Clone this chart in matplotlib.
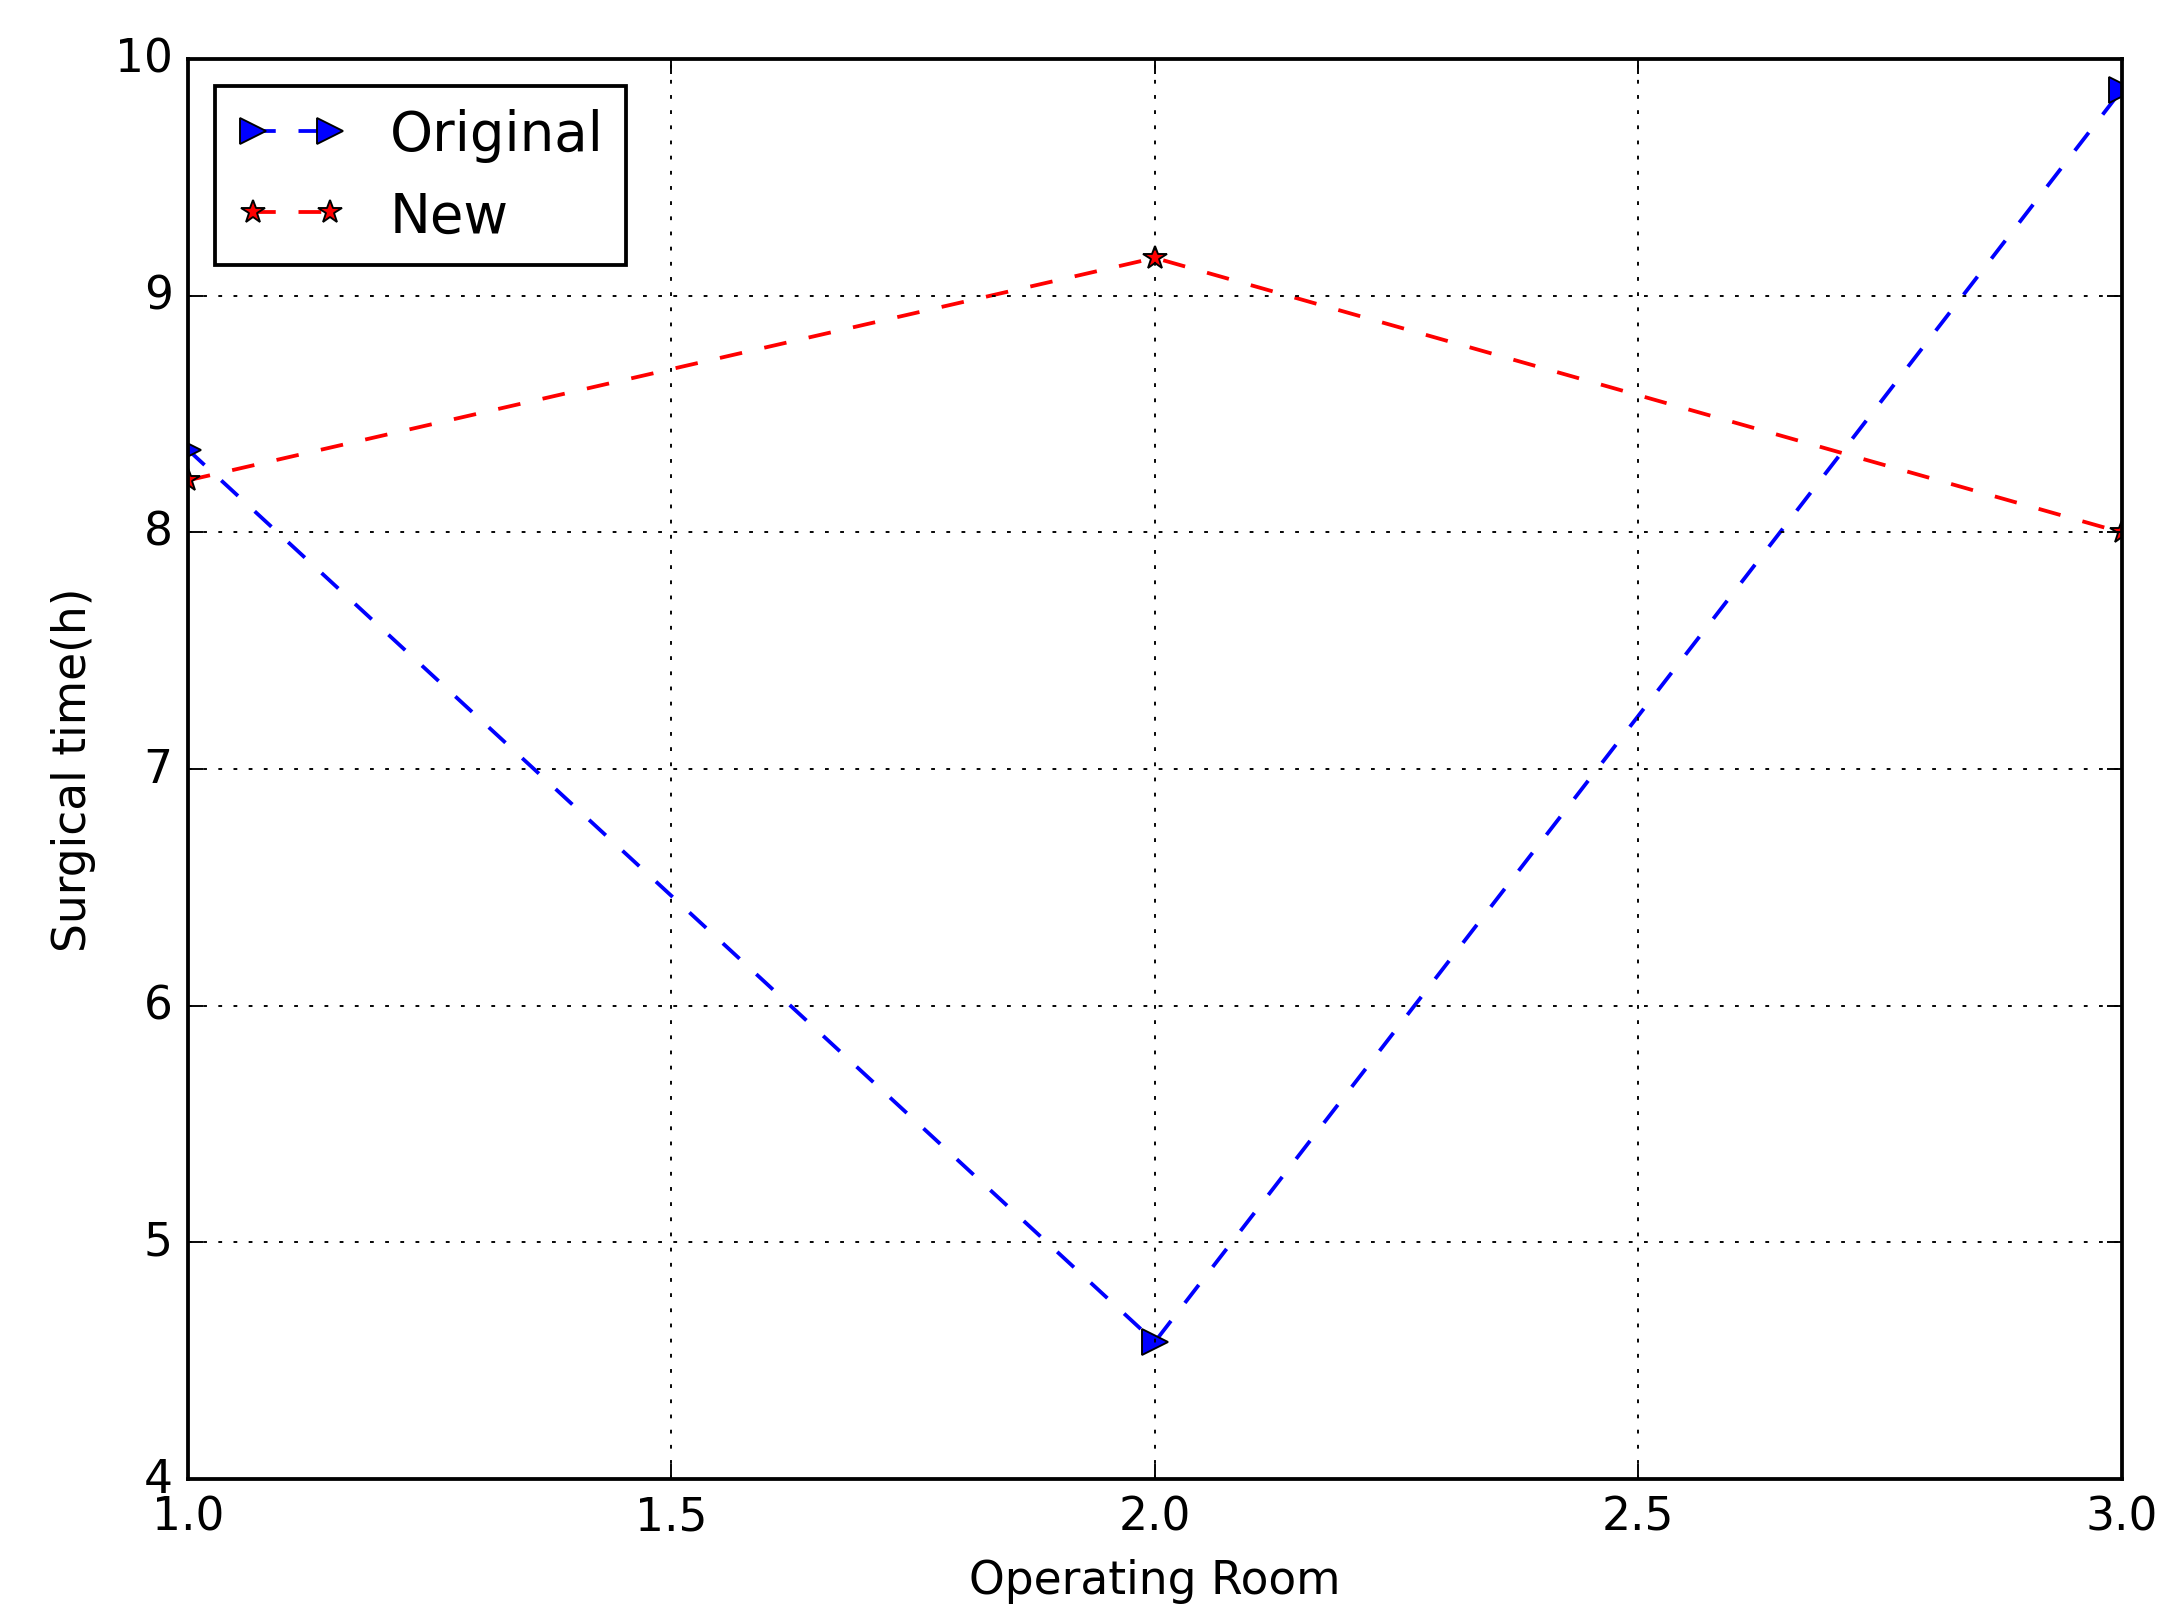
import matplotlib
matplotlib.use("Agg")
import matplotlib.pyplot as plt

plt.style.use('classic')
plt.rcParams['figure.facecolor'] = 'white'
plt.rcParams['savefig.facecolor'] = 'white'

rooms = [1, 2, 3]
original = [8.35, 4.58, 9.87]
new = [8.22, 9.16, 8.0]

fig = plt.figure(figsize=(8.0, 5.945), dpi=273)
ax = fig.add_axes([0.086, 0.088, 0.8855, 0.875])
ax.plot(rooms, original, 'b--', marker='>', markersize=7, label='Original')
ax.plot(rooms, new, 'r--', marker='*', markersize=6.5, label='New')
ax.set_xlim(1, 3)
ax.set_ylim(4, 10)
ax.set_xticks([1.0, 1.5, 2.0, 2.5, 3.0])
ax.grid(True)
ax.set_xlabel('Operating Room')
ax.set_ylabel('Surgical time(h)')
ax.legend(loc='upper left', numpoints=2)
fig.savefig('out.png', dpi=273)
